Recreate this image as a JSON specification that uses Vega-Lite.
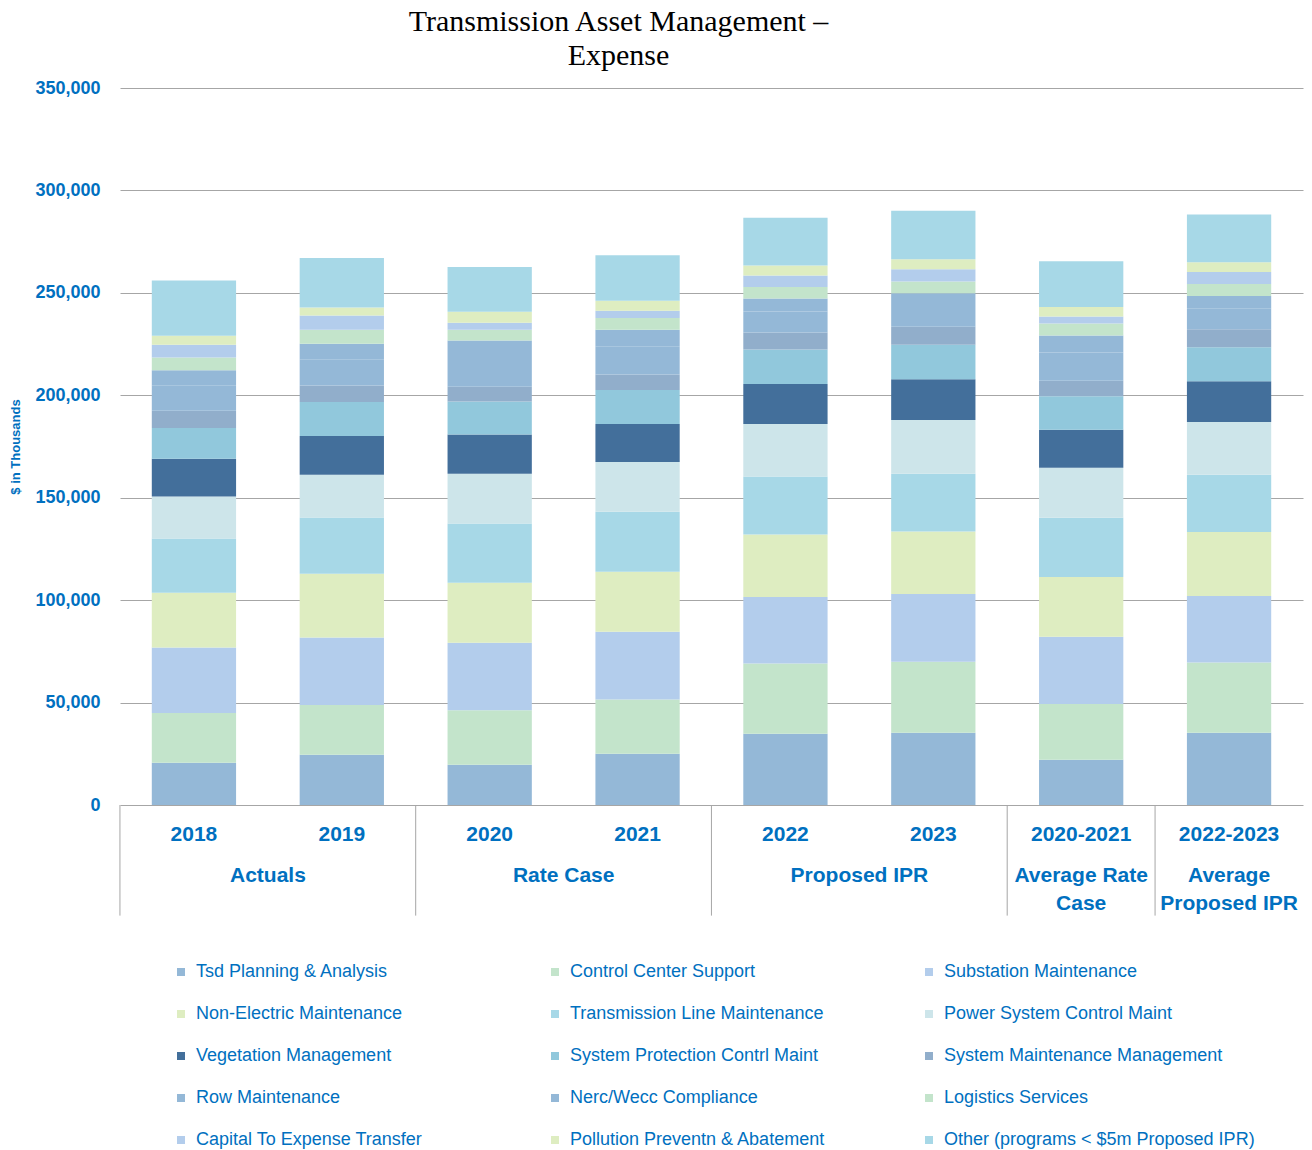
{
  "$schema": "https://vega.github.io/schema/vega-lite/v6.json",
  "width": 1183,
  "height": 717,
  "autosize": {"type": "none"},
  "padding": {"left": 120, "top": 88, "right": 9, "bottom": 345},
  "background": "white",
  "title": {
    "text": ["Transmission Asset Management –", "Expense"],
    "font": "Liberation Serif",
    "fontSize": 30,
    "fontWeight": "normal",
    "color": "#000000",
    "anchor": "middle",
    "dx": -93,
    "offset": 8,
    "lineHeight": 34
  },
  "config": {"view": {"stroke": null}, "font": "Liberation Sans"},
  "datasets": {
    "bars": [
      {"c":"2018","s":"Tsd Planning & Analysis","k":1,"v":20600},
      {"c":"2018","s":"Control Center Support","k":2,"v":24300},
      {"c":"2018","s":"Substation Maintenance","k":3,"v":32000},
      {"c":"2018","s":"Non-Electric Maintenance","k":4,"v":26700},
      {"c":"2018","s":"Transmission Line Maintenance","k":5,"v":26500},
      {"c":"2018","s":"Power System Control Maint","k":6,"v":20500},
      {"c":"2018","s":"Vegetation Management","k":7,"v":18400},
      {"c":"2018","s":"System Protection Contrl Maint","k":8,"v":15000},
      {"c":"2018","s":"System Maintenance Management","k":9,"v":8500},
      {"c":"2018","s":"Row Maintenance","k":10,"v":12200},
      {"c":"2018","s":"Nerc/Wecc Compliance","k":11,"v":7500},
      {"c":"2018","s":"Logistics Services","k":12,"v":6300},
      {"c":"2018","s":"Capital To Expense Transfer","k":13,"v":6200},
      {"c":"2018","s":"Pollution Preventn & Abatement","k":14,"v":4400},
      {"c":"2018","s":"Other (programs < $5m Proposed IPR)","k":15,"v":26900},

      {"c":"2019","s":"Tsd Planning & Analysis","k":1,"v":24500},
      {"c":"2019","s":"Control Center Support","k":2,"v":24300},
      {"c":"2019","s":"Substation Maintenance","k":3,"v":33000},
      {"c":"2019","s":"Non-Electric Maintenance","k":4,"v":31100},
      {"c":"2019","s":"Transmission Line Maintenance","k":5,"v":27500},
      {"c":"2019","s":"Power System Control Maint","k":6,"v":20800},
      {"c":"2019","s":"Vegetation Management","k":7,"v":18900},
      {"c":"2019","s":"System Protection Contrl Maint","k":8,"v":16600},
      {"c":"2019","s":"System Maintenance Management","k":9,"v":8100},
      {"c":"2019","s":"Row Maintenance","k":10,"v":12600},
      {"c":"2019","s":"Nerc/Wecc Compliance","k":11,"v":7800},
      {"c":"2019","s":"Logistics Services","k":12,"v":6800},
      {"c":"2019","s":"Capital To Expense Transfer","k":13,"v":6900},
      {"c":"2019","s":"Pollution Preventn & Abatement","k":14,"v":3900},
      {"c":"2019","s":"Other (programs < $5m Proposed IPR)","k":15,"v":24200},

      {"c":"2020","s":"Tsd Planning & Analysis","k":1,"v":19600},
      {"c":"2020","s":"Control Center Support","k":2,"v":26700},
      {"c":"2020","s":"Substation Maintenance","k":3,"v":32900},
      {"c":"2020","s":"Non-Electric Maintenance","k":4,"v":29300},
      {"c":"2020","s":"Transmission Line Maintenance","k":5,"v":28900},
      {"c":"2020","s":"Power System Control Maint","k":6,"v":24300},
      {"c":"2020","s":"Vegetation Management","k":7,"v":19100},
      {"c":"2020","s":"System Protection Contrl Maint","k":8,"v":16200},
      {"c":"2020","s":"System Maintenance Management","k":9,"v":7200},
      {"c":"2020","s":"Row Maintenance","k":10,"v":14000},
      {"c":"2020","s":"Nerc/Wecc Compliance","k":11,"v":8500},
      {"c":"2020","s":"Logistics Services","k":12,"v":5300},
      {"c":"2020","s":"Capital To Expense Transfer","k":13,"v":3400},
      {"c":"2020","s":"Pollution Preventn & Abatement","k":14,"v":5400},
      {"c":"2020","s":"Other (programs < $5m Proposed IPR)","k":15,"v":21800},

      {"c":"2021","s":"Tsd Planning & Analysis","k":1,"v":25000},
      {"c":"2021","s":"Control Center Support","k":2,"v":26500},
      {"c":"2021","s":"Substation Maintenance","k":3,"v":33100},
      {"c":"2021","s":"Non-Electric Maintenance","k":4,"v":29300},
      {"c":"2021","s":"Transmission Line Maintenance","k":5,"v":29300},
      {"c":"2021","s":"Power System Control Maint","k":6,"v":24200},
      {"c":"2021","s":"Vegetation Management","k":7,"v":18600},
      {"c":"2021","s":"System Protection Contrl Maint","k":8,"v":16600},
      {"c":"2021","s":"System Maintenance Management","k":9,"v":7500},
      {"c":"2021","s":"Row Maintenance","k":10,"v":13600},
      {"c":"2021","s":"Nerc/Wecc Compliance","k":11,"v":8300},
      {"c":"2021","s":"Logistics Services","k":12,"v":5700},
      {"c":"2021","s":"Capital To Expense Transfer","k":13,"v":3600},
      {"c":"2021","s":"Pollution Preventn & Abatement","k":14,"v":4900},
      {"c":"2021","s":"Other (programs < $5m Proposed IPR)","k":15,"v":22100},

      {"c":"2022","s":"Tsd Planning & Analysis","k":1,"v":34800},
      {"c":"2022","s":"Control Center Support","k":2,"v":34300},
      {"c":"2022","s":"Substation Maintenance","k":3,"v":32400},
      {"c":"2022","s":"Non-Electric Maintenance","k":4,"v":30600},
      {"c":"2022","s":"Transmission Line Maintenance","k":5,"v":28300},
      {"c":"2022","s":"Power System Control Maint","k":6,"v":25600},
      {"c":"2022","s":"Vegetation Management","k":7,"v":19500},
      {"c":"2022","s":"System Protection Contrl Maint","k":8,"v":16800},
      {"c":"2022","s":"System Maintenance Management","k":9,"v":8400},
      {"c":"2022","s":"Row Maintenance","k":10,"v":10200},
      {"c":"2022","s":"Nerc/Wecc Compliance","k":11,"v":6300},
      {"c":"2022","s":"Logistics Services","k":12,"v":5700},
      {"c":"2022","s":"Capital To Expense Transfer","k":13,"v":5600},
      {"c":"2022","s":"Pollution Preventn & Abatement","k":14,"v":4900},
      {"c":"2022","s":"Other (programs < $5m Proposed IPR)","k":15,"v":23300},

      {"c":"2023","s":"Tsd Planning & Analysis","k":1,"v":35300},
      {"c":"2023","s":"Control Center Support","k":2,"v":34600},
      {"c":"2023","s":"Substation Maintenance","k":3,"v":33100},
      {"c":"2023","s":"Non-Electric Maintenance","k":4,"v":30500},
      {"c":"2023","s":"Transmission Line Maintenance","k":5,"v":28200},
      {"c":"2023","s":"Power System Control Maint","k":6,"v":26200},
      {"c":"2023","s":"Vegetation Management","k":7,"v":19900},
      {"c":"2023","s":"System Protection Contrl Maint","k":8,"v":16900},
      {"c":"2023","s":"System Maintenance Management","k":9,"v":8800},
      {"c":"2023","s":"Row Maintenance","k":10,"v":10100},
      {"c":"2023","s":"Nerc/Wecc Compliance","k":11,"v":6200},
      {"c":"2023","s":"Logistics Services","k":12,"v":5800},
      {"c":"2023","s":"Capital To Expense Transfer","k":13,"v":5900},
      {"c":"2023","s":"Pollution Preventn & Abatement","k":14,"v":4900},
      {"c":"2023","s":"Other (programs < $5m Proposed IPR)","k":15,"v":23700},

      {"c":"2020-2021","s":"Tsd Planning & Analysis","k":1,"v":22100},
      {"c":"2020-2021","s":"Control Center Support","k":2,"v":27200},
      {"c":"2020-2021","s":"Substation Maintenance","k":3,"v":32800},
      {"c":"2020-2021","s":"Non-Electric Maintenance","k":4,"v":29200},
      {"c":"2020-2021","s":"Transmission Line Maintenance","k":5,"v":28900},
      {"c":"2020-2021","s":"Power System Control Maint","k":6,"v":24400},
      {"c":"2020-2021","s":"Vegetation Management","k":7,"v":18600},
      {"c":"2020-2021","s":"System Protection Contrl Maint","k":8,"v":16300},
      {"c":"2020-2021","s":"System Maintenance Management","k":9,"v":7600},
      {"c":"2020-2021","s":"Row Maintenance","k":10,"v":13800},
      {"c":"2020-2021","s":"Nerc/Wecc Compliance","k":11,"v":8300},
      {"c":"2020-2021","s":"Logistics Services","k":12,"v":5800},
      {"c":"2020-2021","s":"Capital To Expense Transfer","k":13,"v":3400},
      {"c":"2020-2021","s":"Pollution Preventn & Abatement","k":14,"v":4700},
      {"c":"2020-2021","s":"Other (programs < $5m Proposed IPR)","k":15,"v":22300},

      {"c":"2022-2023","s":"Tsd Planning & Analysis","k":1,"v":35300},
      {"c":"2022-2023","s":"Control Center Support","k":2,"v":34300},
      {"c":"2022-2023","s":"Substation Maintenance","k":3,"v":32400},
      {"c":"2022-2023","s":"Non-Electric Maintenance","k":4,"v":31300},
      {"c":"2022-2023","s":"Transmission Line Maintenance","k":5,"v":27900},
      {"c":"2022-2023","s":"Power System Control Maint","k":6,"v":25800},
      {"c":"2022-2023","s":"Vegetation Management","k":7,"v":19800},
      {"c":"2022-2023","s":"System Protection Contrl Maint","k":8,"v":16600},
      {"c":"2022-2023","s":"System Maintenance Management","k":9,"v":8800},
      {"c":"2022-2023","s":"Row Maintenance","k":10,"v":10100},
      {"c":"2022-2023","s":"Nerc/Wecc Compliance","k":11,"v":6200},
      {"c":"2022-2023","s":"Logistics Services","k":12,"v":5800},
      {"c":"2022-2023","s":"Capital To Expense Transfer","k":13,"v":5900},
      {"c":"2022-2023","s":"Pollution Preventn & Abatement","k":14,"v":4700},
      {"c":"2022-2023","s":"Other (programs < $5m Proposed IPR)","k":15,"v":23300}
    ],
    "dividers": [{"c":"2018"},{"c":"2020"},{"c":"2022"},{"c":"2020-2021"},{"c":"2022-2023"}],
    "groups2": [{"c":"2018","g":"Actuals"},{"c":"2020","g":"Rate Case"},{"c":"2022","g":"Proposed IPR"}],
    "groups1": [{"c":"2020-2021","g":"Average Rate\nCase"},{"c":"2022-2023","g":"Average\nProposed IPR"}]
  },
  "layer": [
    {
      "data": {"name": "bars"},
      "mark": {"type": "bar"},
      "encoding": {
        "x": {
          "field": "c", "type": "nominal",
          "sort": ["2018","2019","2020","2021","2022","2023","2020-2021","2022-2023"],
          "scale": {"paddingInner": 0.43, "paddingOuter": 0.215},
          "axis": {
            "title": null, "labelAngle": 0, "ticks": false, "domain": false,
            "labelPadding": 18, "labelBaseline": "top",
            "labelFont": "Liberation Sans",
            "labelFontSize": 21, "labelFontWeight": "bold", "labelColor": "#0070c0"
          }
        },
        "y": {
          "field": "v", "type": "quantitative", "stack": "zero",
          "scale": {"domain": [0, 350000], "nice": false},
          "axis": {
            "title": "$ in Thousands",
            "titleFont": "Liberation Sans", "titleFontSize": 13, "titleFontWeight": "bold",
            "titleColor": "#0070c0", "titlePadding": 12,
            "values": [0, 50000, 100000, 150000, 200000, 250000, 300000, 350000],
            "format": ",d",
            "grid": true, "gridColor": "#a6a6a6", "gridWidth": 1,
            "ticks": false, "domain": false, "labelPadding": 20,
            "labelFont": "Liberation Sans",
            "labelFontSize": 18, "labelFontWeight": "bold", "labelColor": "#0070c0"
          }
        },
        "color": {
          "field": "s", "type": "nominal",
          "scale": {
            "domain": ["Tsd Planning & Analysis","Control Center Support","Substation Maintenance","Non-Electric Maintenance","Transmission Line Maintenance","Power System Control Maint","Vegetation Management","System Protection Contrl Maint","System Maintenance Management","Row Maintenance","Nerc/Wecc Compliance","Logistics Services","Capital To Expense Transfer","Pollution Preventn & Abatement","Other (programs < $5m Proposed IPR)"],
            "range": ["#94b8d7","#c3e4cb","#b3cdec","#deedc1","#a7d8e7","#cde5ea","#436f9b","#91c8dc","#91aecb","#94b8d7","#94b8d7","#c3e4cb","#b3cdec","#deedc1","#a7d8e7"]
          },
          "legend": {
            "orient": "none", "legendX": 52, "legendY": 875, "direction": "horizontal",
            "columns": 3, "gridAlign": "all", "columnPadding": 39, "rowPadding": 24,
            "symbolType": "square", "symbolSize": 64, "symbolStrokeWidth": 0,
            "labelFont": "Liberation Sans",
            "labelFontSize": 18, "labelColor": "#0070c0", "labelOffset": 6, "labelLimit": 400,
            "title": null
          }
        },
        "order": {"field": "k", "type": "quantitative", "sort": "ascending"}
      }
    },
    {
      "data": {"name": "dividers"},
      "mark": {"type": "rule", "color": "#a6a6a6", "strokeWidth": 1, "xOffset": -74},
      "encoding": {
        "x": {"field": "c", "type": "nominal", "sort": ["2018","2019","2020","2021","2022","2023","2020-2021","2022-2023"]},
        "y": {"datum": 0, "type": "quantitative"},
        "y2": {"datum": -54000}
      }
    },
    {
      "data": {"name": "groups2"},
      "mark": {"type": "text", "dx": 74, "baseline": "top", "align": "center",
               "font": "Liberation Sans",
               "fontSize": 21, "fontWeight": "bold", "color": "#0070c0"},
      "encoding": {
        "x": {"field": "c", "type": "nominal", "sort": ["2018","2019","2020","2021","2022","2023","2020-2021","2022-2023"]},
        "y": {"datum": -29500, "type": "quantitative"},
        "text": {"field": "g"}
      }
    },
    {
      "data": {"name": "groups1"},
      "mark": {"type": "text", "baseline": "top", "align": "center", "lineBreak": "\n", "lineHeight": 28,
               "font": "Liberation Sans",
               "fontSize": 21, "fontWeight": "bold", "color": "#0070c0"},
      "encoding": {
        "x": {"field": "c", "type": "nominal", "sort": ["2018","2019","2020","2021","2022","2023","2020-2021","2022-2023"]},
        "y": {"datum": -29500, "type": "quantitative"},
        "text": {"field": "g"}
      }
    }
  ]
}
